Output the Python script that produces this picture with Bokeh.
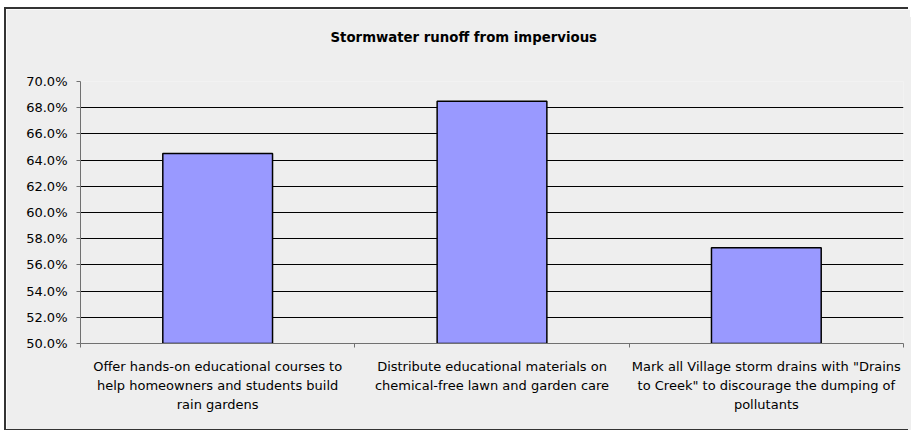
from bokeh.plotting import figure
from bokeh.models import FixedTicker, NumeralTickFormatter, Range1d, ColumnDataSource, Title
from bokeh.embed import file_html
from bokeh.resources import INLINE

# ---- data ----
categories = [
    "Offer hands-on educational courses to\nhelp homeowners and students build\nrain gardens",
    "Distribute educational materials on\nchemical-free lawn and garden care",
    "Mark all Village storm drains with \"Drains\nto Creek\" to discourage the dumping of\npollutants",
]
values = [0.645, 0.685, 0.573]
y_ticks = [0.50, 0.52, 0.54, 0.56, 0.58, 0.60, 0.62, 0.64, 0.66, 0.68, 0.70]
title_text = "Stormwater runoff from impervious"

FONT = "DejaVu Sans"
BG = "#eeeeee"

n = len(categories)
centers = [i + 0.5 for i in range(n)]
bounds = [float(i) for i in range(n + 1)]

p = figure(
    width=904, height=420,
    x_range=Range1d(0, n), y_range=Range1d(y_ticks[0], y_ticks[-1]),
    output_backend="svg", toolbar_location=None, title_location=None,
    min_border_left=74, min_border_right=7, min_border_top=72, min_border_bottom=86,
    background_fill_color=BG, border_fill_color=BG,
)
p.outline_line_color = None
p.styles = {
    "margin-left": "6px",
    "margin-top": "9px",
    "box-shadow": "-2px -2px 0 0 #333333, -2px 8px 0 0 #333333, 8px 8px 0 0 #eeeeee",
}

src = ColumnDataSource(dict(x=centers, top=values))
p.vbar(x="x", top="top", bottom=y_ticks[0], width=0.4, source=src,
       fill_color="#9999ff", line_color="#000000", line_width=1.5)

# title (spacer first, closest to the frame, then the title itself)
spacer = Title(text=" ", text_font_size="8px", standoff=8, text_color=BG)
p.add_layout(spacer, "above")
main_title = Title(text=title_text, text_font=FONT, text_font_size="13.3px",
                   text_font_style="bold", text_color="#000000",
                   align="left", offset=250, standoff=36)
p.add_layout(main_title, "above")

# y axis
p.yaxis.ticker = FixedTicker(ticks=y_ticks)
p.yaxis.formatter = NumeralTickFormatter(format="0.0%")
p.yaxis.major_label_text_font = FONT
p.yaxis.major_label_text_font_size = "13px"
p.yaxis.major_label_text_color = "#000000"
p.yaxis.major_tick_out = 4
p.yaxis.major_tick_in = 0
p.yaxis.minor_tick_line_color = None
p.yaxis.major_label_standoff = 9
p.yaxis.axis_line_color = "#707070"
p.yaxis.major_tick_line_color = "#707070"

# x axis
p.xaxis.ticker = FixedTicker(ticks=centers, minor_ticks=bounds)
p.xaxis.major_label_overrides = {c: lab for c, lab in zip(centers, categories)}
p.xaxis.major_label_text_font = FONT
p.xaxis.major_label_text_font_size = "13px"
p.xaxis.major_label_text_color = "#000000"
p.xaxis.major_label_text_line_height = 1.28
p.xaxis.major_label_orientation = "horizontal"
p.xaxis.major_tick_out = 0
p.xaxis.major_tick_in = 0
p.xaxis.major_tick_line_color = None
p.xaxis.minor_tick_out = 4
p.xaxis.minor_tick_in = 0
p.xaxis.minor_tick_line_color = "#707070"
p.xaxis.major_label_standoff = 11
p.xaxis.axis_line_color = "#707070"

# grid
p.xgrid.grid_line_color = None
p.ygrid.ticker = FixedTicker(ticks=y_ticks)
p.ygrid.grid_line_color = "#000000"
p.ygrid.grid_line_width = 1

open("out.html", "w").write(file_html(p, INLINE))
